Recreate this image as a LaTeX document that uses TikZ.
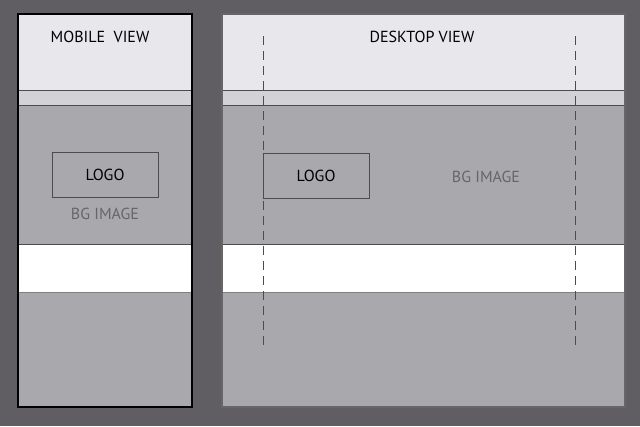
\documentclass[tikz,border=0pt]{standalone}
\usepackage{fontspec}
\setmainfont{PT Sans}
\usetikzlibrary{positioning}
\definecolor{bgdark}{HTML}{605E62}
\definecolor{headgray}{HTML}{E8E7EC}
\definecolor{bandgray}{HTML}{D3D2D7}
\definecolor{imggray}{HTML}{A9A8AD}
\definecolor{linegray}{HTML}{4C4B4F}
\definecolor{textgray}{HTML}{66656A}
\begin{document}
\begin{tikzpicture}[x=1pt, y=-1pt,
    every node/.style={inner sep=0pt, font=\fontsize{16}{18}\selectfont},
    logobox/.style={draw=linegray, line width=0.9pt, minimum width=106pt, minimum height=45pt},
    bglabel/.style={text=textgray},
    guide/.style={draw=gray!60!black, dashed, dash pattern=on 9pt off 6pt, line width=1pt}]

    % Background
    \fill[bgdark] (0,0) rectangle (640,426);

    % Mobile view
    \fill[headgray] (18,14) rectangle (192,90);
    \fill[bandgray] (18,90) rectangle (192,105);
    \fill[imggray] (18,105) rectangle (192,244);
    \fill[white] (18,244) rectangle (192,292);
    \fill[imggray] (18,292) rectangle (192,407);
    \draw[linegray, line width=1pt] (18,90) -- (192,90);
    \draw[linegray, line width=1pt] (18,105) -- (192,105);
    \draw[linegray, line width=1pt] (18,244) -- (192,244);
    \draw[gray, line width=1pt] (18,292) -- (192,292);
    \draw[black, line width=1.2pt] (18,14) rectangle (192,407);

    \node (mtitle) at (100,37) {MOBILE\ \ VIEW};
    \node[logobox] (mlogo) at (105,175) {LOGO};
    \node[bglabel, below=10pt of mlogo] (mbg) {BG IMAGE};

    % Desktop view
    \fill[headgray] (222,14) rectangle (625,90);
    \fill[bandgray] (222,90) rectangle (625,105);
    \fill[imggray] (222,105) rectangle (625,244);
    \fill[white] (222,244) rectangle (625,292);
    \fill[imggray] (222,292) rectangle (625,407);
    \draw[linegray, line width=1pt] (222,90) -- (625,90);
    \draw[linegray, line width=1pt] (222,105) -- (625,105);
    \draw[linegray, line width=1pt] (222,244) -- (625,244);
    \draw[gray, line width=1pt] (222,292) -- (625,292);
    \draw[gray!80!black, line width=1.2pt] (222,14) rectangle (625,407);

    % Content guides
    \coordinate (gl1) at (263,36);
    \coordinate (gl2) at (263,347);
    \coordinate (gr1) at (575,36);
    \coordinate (gr2) at (575,347);
    \draw[guide] (gl1) -- (gl2);
    \draw[guide] (gr1) -- (gr2);

    \node (dtitle) at (422,37) {DESKTOP VIEW};
    \node[logobox] (dlogo) at (316,176) {LOGO};
    \node[bglabel] (dbg) at (486,177) {BG IMAGE};

\end{tikzpicture}
\end{document}
